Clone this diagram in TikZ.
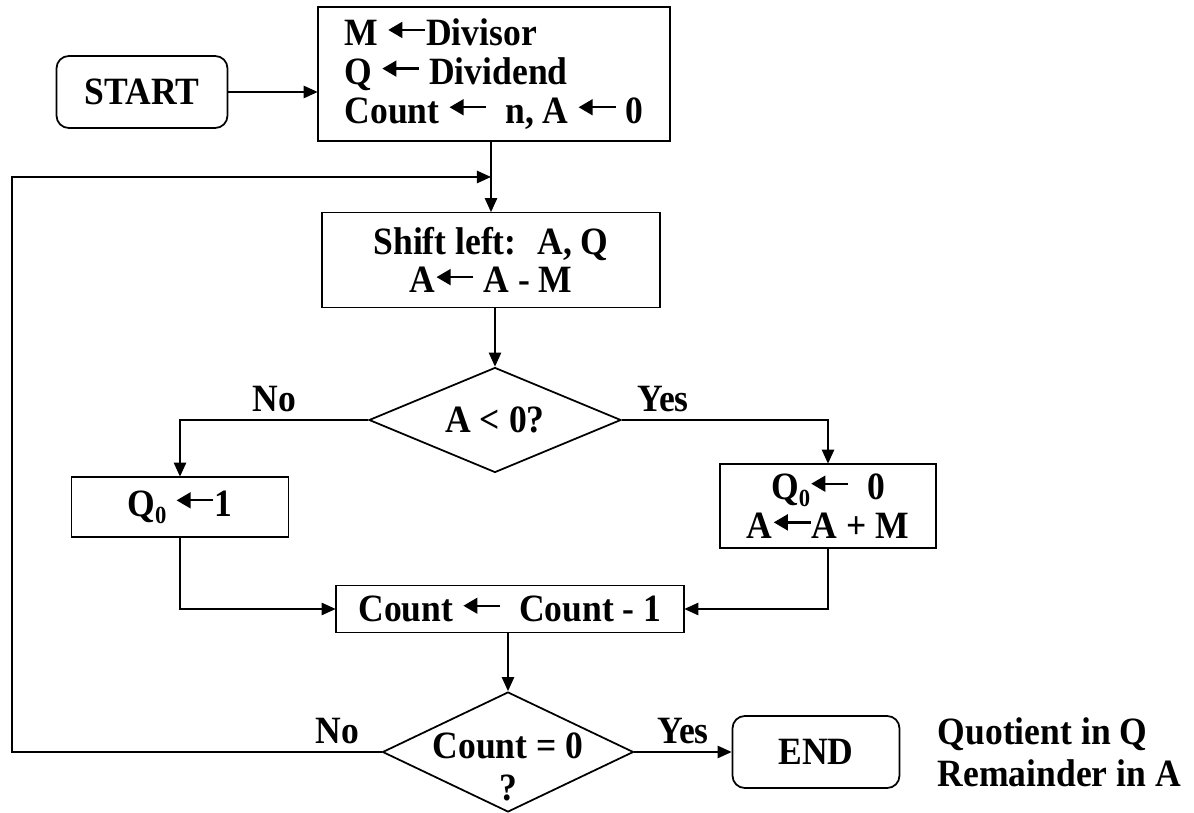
\documentclass[tikz,border=0pt]{standalone}
\usepackage{fontspec}
\setmainfont{Liberation Serif}[FakeStretch=0.92]
\usetikzlibrary{arrows.meta,shapes.geometric}
\newcommand{\la}{\tikz[baseline=-9pt,x=1cm,y=1cm]\draw[line width=1.3pt,-{Triangle[length=8pt,width=9pt]}] (21pt,0) -- (0,0);}
\newcommand{\zsub}{\raisebox{-4pt}{\fontsize{14}{14}\selectfont 0}}

\begin{document}
\begin{tikzpicture}[x=0.02cm,y=-0.02cm,line width=1pt,
  font=\fontsize{22}{22}\selectfont\bfseries,
  box/.style={draw,rectangle,align=center,inner sep=0pt},
  term/.style={draw,rectangle,rounded corners=7pt,inner sep=0pt},
  cond/.style={draw,diamond,align=center,inner xsep=-30pt,inner ysep=-15pt},
  arr/.style={-{Triangle[length=8pt,width=7pt]}}]
\useasboundingbox (0,0) rectangle (1194,813);
% blocks
\node[term,minimum width=3.42cm,minimum height=1.44cm] (start) at (142,92) {START};
\node[box,align=left,minimum width=7.04cm,minimum height=2.68cm] (init) at (494,74)
  {M \la Divisor\\Q \la{} Dividend\\Count \la{} \ n, A \la{} 0};
\node[box,minimum width=6.76cm,minimum height=1.9cm] (shift) at (491,260)
  {Shift left: \ A, Q\\A\la{} A - M};
\node[cond,minimum width=5.04cm,minimum height=2.1cm] (test) at (495,420) {A < 0?};
\node[box,minimum width=4.34cm,minimum height=1.2cm] (setone) at (180,507)
  {Q\zsub\ \la{}1};
\node[box,minimum width=4.32cm,minimum height=1.68cm] (restore) at (828,506)
  {Q\zsub\la{} \ 0\\A\la{}A + M};
\node[box,minimum width=6.96cm,minimum height=0.94cm] (count) at (510,609)
  {Count \la{} \ Count - 1};
\node[cond,minimum width=5.02cm,minimum height=2.4cm] (done) at (508,752)
  {\rule{0pt}{32pt}Count = 0\\[2pt]?};
\node[term,minimum width=3.34cm,minimum height=1.44cm] (stop) at (816,752) {END};
\node[align=left,anchor=west,inner sep=0pt] (result) at (937,752)
  {Quotient in Q\\[2pt]Remainder in A};
\coordinate (merge) at (491,177);
\coordinate (loop) at (12,177);
% flow
\draw[arr] (start.east) -- (start.east -| init.west);
\draw[arr] (init.south -| merge) -- (shift.north -| merge);
\draw[arr] (shift.south -| test.north) -- (test.north);
\draw[arr] (test.west) -| node[pos=0.25,above=1pt] {No} (setone.north);
\draw[arr] (test.east) -| node[pos=0.1,above=1pt] {Yes} (restore.north);
\draw[arr] (setone.south) |- (count.west);
\draw[arr] (restore.south) |- (count.east);
\draw[arr] (count.south -| done.north) -- (done.north);
\draw[arr] (done.east) -- node[above=1pt] {Yes} (stop.west);
\draw[arr] (done.west) -| node[pos=0.06,above=1pt] {No} (loop) -- (merge);
\end{tikzpicture}
\end{document}
